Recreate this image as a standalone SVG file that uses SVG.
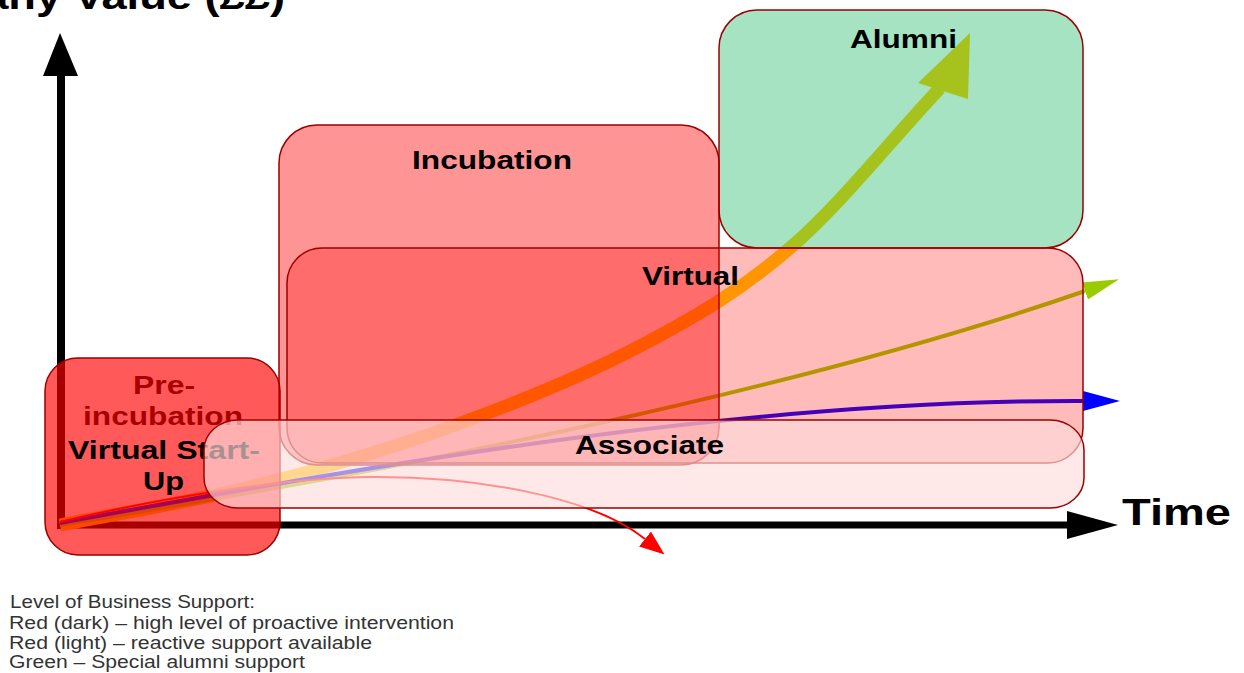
<svg xmlns="http://www.w3.org/2000/svg" width="1244" height="673" viewBox="0 0 1244 673">
<defs>
<style>
.box{stroke:#9B0000;stroke-width:1.5}
.lbl{font-family:"Liberation Sans",Arial,sans-serif;font-weight:bold;font-size:26px;fill:#000}
.big{font-family:"Liberation Sans",Arial,sans-serif;font-weight:bold;font-size:37px;fill:#000}
.leg{font-family:"Liberation Sans",Arial,sans-serif;font-size:17.5px;fill:#333}
.curve{fill:none}
</style>
<marker id="ahGreen" markerUnits="userSpaceOnUse" orient="auto" markerWidth="40" markerHeight="20" viewBox="0 0 40 20" refX="0" refY="10"><path d="M0,1 L36,10 L0,19 Z" fill="#99CC00"/></marker>
<marker id="ahBlue" markerUnits="userSpaceOnUse" orient="auto" markerWidth="40" markerHeight="22" viewBox="0 0 40 22" refX="0" refY="11"><path d="M0,1 L37,11 L0,21 Z" fill="#0000FF"/></marker>
<marker id="ahRed" markerUnits="userSpaceOnUse" orient="auto" markerWidth="28" markerHeight="20" viewBox="0 0 28 20" refX="0" refY="10"><path d="M0,0.5 L25,10 L0,19.5 Z" fill="#FF0000"/></marker>
</defs>
<rect x="0" y="0" width="1244" height="673" fill="#FFFFFF"/>

<g id="axes">
<line x1="61" y1="529" x2="61" y2="74" stroke="#000" stroke-width="8"/>
<polygon points="43,76 60,33 78,76" fill="#000"/>
<line x1="57" y1="525" x2="1068" y2="525" stroke="#000" stroke-width="7"/>
<polygon points="1067,511 1118,525 1067,539" fill="#000"/>
<text class="big" x="-145" y="9" textLength="430" lengthAdjust="spacingAndGlyphs">Company Value (££)</text>
<text class="big" x="1122" y="525" textLength="109" lengthAdjust="spacingAndGlyphs">Time</text>
</g>

<g id="connectors">
<path class="curve" d="M60,525 C123.3,512.3 185,503.3 250,487 C315,470.7 385,450.5 450,427 C515,403.5 583.3,375.8 640,346 C696.7,316.2 740,291 790,248 C840,205 890,141.3 940,88" stroke="#FFCC00" stroke-width="13"/>
<polygon points="918,83 970,33 968,99" fill="#FFCC00"/>
<path class="curve" d="M60,525 C400,470 800,390 1085,291" stroke="#99CC00" stroke-width="4" marker-end="url(#ahGreen)"/>
<path class="curve" d="M60,523 C400,460 750,400 1083,401" stroke="#0000FF" stroke-width="4" marker-end="url(#ahBlue)"/>
<path class="curve" d="M60,522 C150,500 280,478 370,477 C470,476 590,495 645,539" stroke="#FF0000" stroke-width="2" marker-end="url(#ahRed)"/>
</g>

<g id="alumni">
<rect class="box" x="719" y="10" width="364" height="238" rx="38" fill="#00B050" fill-opacity="0.35"/>
<text class="lbl" x="850" y="48" textLength="107" lengthAdjust="spacingAndGlyphs">Alumni</text>
</g>

<g id="incubation">
<rect class="box" x="279" y="125" width="440" height="340" rx="38" fill="#FF0000" fill-opacity="0.42"/>
<text class="lbl" x="412" y="169" textLength="160" lengthAdjust="spacingAndGlyphs">Incubation</text>
</g>

<g id="virtual">
<rect class="box" x="287" y="248" width="796" height="215" rx="35" fill="#FF0000" fill-opacity="0.27"/>
<text class="lbl" x="642" y="285" textLength="97" lengthAdjust="spacingAndGlyphs">Virtual</text>
</g>

<g id="pre-incubation">
<text class="lbl" x="133" y="394" textLength="62" lengthAdjust="spacingAndGlyphs">Pre-</text>
<text class="lbl" x="83" y="425" textLength="160" lengthAdjust="spacingAndGlyphs">incubation</text>
<rect class="box" x="45" y="358" width="235" height="197" rx="33" fill="#FF0000" fill-opacity="0.65"/>
</g>

<g id="virtual-start-up">
<text class="lbl" x="68" y="459" textLength="192" lengthAdjust="spacingAndGlyphs">Virtual Start-</text>
<text class="lbl" x="143" y="490" textLength="41" lengthAdjust="spacingAndGlyphs">Up</text>
</g>

<g id="associate">
<rect class="box" x="204" y="420" width="880" height="88" rx="34" ry="30" fill="#FFDCDC" fill-opacity="0.66"/>
<text class="lbl" x="575" y="454" textLength="149" lengthAdjust="spacingAndGlyphs">Associate</text>
</g>

<g id="legend">
<text class="leg" x="10" y="608" textLength="245" lengthAdjust="spacingAndGlyphs">Level of Business Support:</text>
<text class="leg" x="9" y="629" textLength="445" lengthAdjust="spacingAndGlyphs">Red (dark) – high level of proactive intervention</text>
<text class="leg" x="9" y="649" textLength="363" lengthAdjust="spacingAndGlyphs">Red (light) – reactive support available</text>
<text class="leg" x="9" y="668" textLength="296" lengthAdjust="spacingAndGlyphs">Green – Special alumni support</text>
</g>
</svg>
